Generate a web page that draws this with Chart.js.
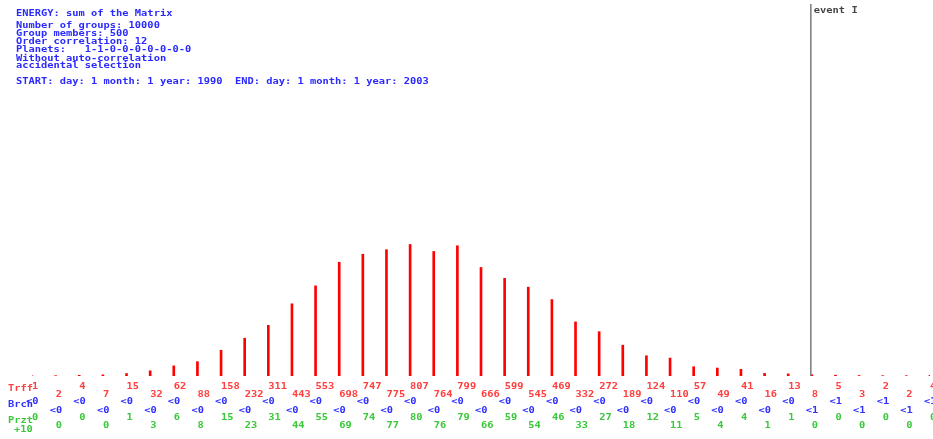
<!DOCTYPE html>
<html>
<head>
<meta charset="utf-8">
<script src="https://cdn.jsdelivr.net/npm/chart.js@4/dist/chart.umd.min.js"></script>
<style>
  body { margin: 0; background: #fff; }
  #wrap { width: 933px; height: 439px; position: relative; }
</style>
</head>
<body>
<div id="wrap"><canvas id="myChart"></canvas></div>
<script>
const classes = ["1","2","3","4","5","6","7","8","9","10","11","12","13","14","15","16","17","18","19","20",
  "21","22","23","24","25","26","27","28","29","30","31","32","33","34","35","36","37","38","39"];
const treff = [1, 2, 4, 7, 15, 32, 62, 88, 158, 232, 311, 443, 553, 698, 747, 775, 807, 764, 799, 666,
  599, 545, 469, 332, 272, 189, 124, 110, 57, 49, 41, 16, 13, 8, 5, 3, 2, 2, 4];
const brch = ["<0","<0","<0","<0","<0","<0","<0","<0","<0","<0","<0","<0","<0","<0","<0","<0","<0","<0","<0","<0",
  "<0","<0","<0","<0","<0","<0","<0","<0","<0","<0","<0","<0","<0","<1","<1","<1","<1","<1","<1"];
const przt = [0, 0, 0, 0, 1, 3, 6, 8, 15, 23, 31, 44, 55, 69, 74, 77, 80, 76, 79, 66,
  59, 54, 46, 33, 27, 18, 12, 11, 5, 4, 4, 1, 1, 0, 0, 0, 0, 0, 0];
const headerLines = [
  ["ENERGY: sum of the Matrix", 14],
  ["Number of groups: 10000", 25.5],
  ["Group members: 500", 34],
  ["Order correlation: 12", 42.3],
  ["Planets:   1-1-0-0-0-0-0-0-0", 49.5],
  ["Without auto-correlation", 58.5],
  ["accidental selection", 66],
  ["START: day: 1 month: 1 year: 1990  END: day: 1 month: 1 year: 2003", 82]
];
const eventIndex = 33;
const eventLabel = "event I";

const FONT = "bold 10.4px 'DejaVu Sans Mono'";

function txt(ctx, s, x, y, color) {
  ctx.save();
  ctx.fillStyle = color;
  ctx.font = FONT;
  ctx.textBaseline = "middle";
  ctx.translate(x, y);
  ctx.scale(1, 0.76);
  ctx.fillText(s, 0, 0);
  ctx.restore();
}

const textPlugin = {
  id: "texts",
  afterDraw(chart) {
    const ctx = chart.ctx;
    const xs = chart.scales.x;
    const ys = chart.scales.y;
    headerLines.forEach(function (l) { txt(ctx, l[0], 16, l[1], "#2a2aff"); });

    // event marker
    const ex = xs.getPixelForValue(eventIndex) - 1;
    ctx.save();
    ctx.strokeStyle = "#7a7a7a";
    ctx.lineWidth = 1.5;
    ctx.beginPath();
    ctx.moveTo(ex, 4);
    ctx.lineTo(ex, ys.bottom);
    ctx.stroke();
    ctx.restore();
    txt(ctx, eventLabel, ex + 3, 11, "#444");

    // row titles
    txt(ctx, "Trff", 8, 389, "#ff4040");
    txt(ctx, "Brch", 8, 405, "#3030ff");
    txt(ctx, "Przt", 8, 421, "#3cc83c");
    txt(ctx, "+10", 14, 430, "#3cc83c");

    for (let i = 0; i < classes.length; i++) {
      const x = xs.getPixelForValue(i);
      const odd = i % 2 === 1;
      txt(ctx, String(treff[i]), x, odd ? 395 : 387, "#ff4040");
      txt(ctx, brch[i], x - 6, odd ? 411 : 401.5, "#3030ff");
      txt(ctx, String(przt[i]), x, odd ? 426 : 417.5, "#3cc83c");
    }
  }
};

new Chart("myChart", {
  type: "bar",
  data: {
    labels: classes,
    datasets: [
      {
        data: treff,
        backgroundColor: "#ff0000",
        barThickness: 2,
      },
    ],
  },
  options: {
    responsive: true,
    maintainAspectRatio: false,
    animation: false,
    layout: { padding: { left: 32, right: 3, top: 6, bottom: 63 } },
    plugins: {
      legend: { display: false },
      tooltip: { enabled: false },
    },
    scales: {
      x: { display: false, offset: false },
      y: { display: false, min: 0, max: 2270 },
    },
  },
  plugins: [textPlugin],
});
</script>
</body>
</html>
